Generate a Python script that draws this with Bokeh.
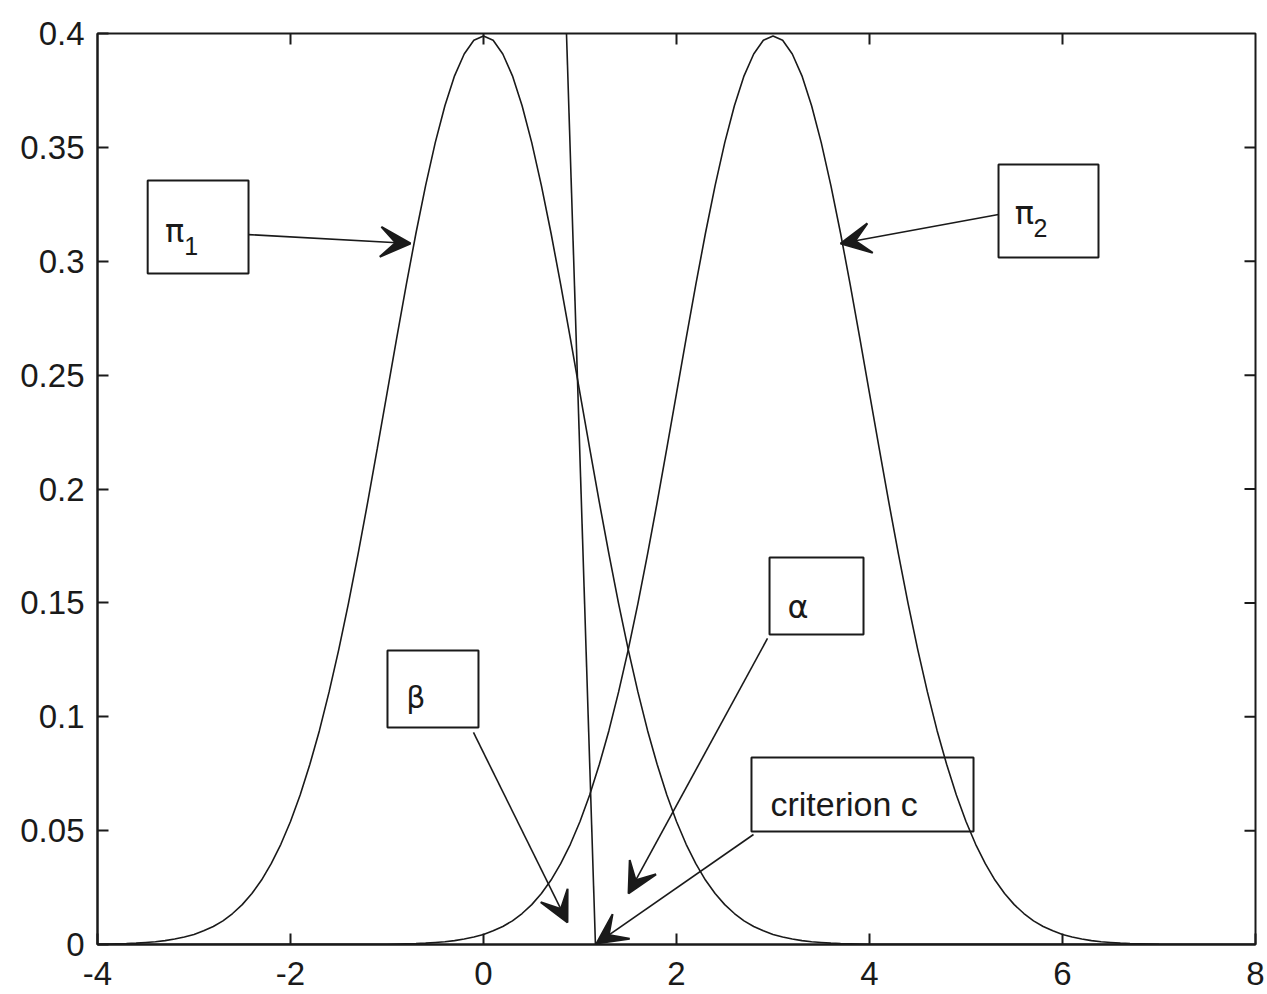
from bokeh.plotting import figure
from bokeh.models import Range1d, FixedTicker, Arrow, VeeHead, ColumnDataSource
from bokeh.core.properties import value
from bokeh.embed import file_html
from bokeh.resources import INLINE

# ---- data ----
# right half of a bell curve, read at steps of 0.1 from its centre outwards
half_curve = [0.3989, 0.3970, 0.3910, 0.3814, 0.3683, 0.3521, 0.3332, 0.3123, 0.2897, 0.2661,
              0.2420, 0.2179, 0.1942, 0.1714, 0.1497, 0.1295, 0.1109, 0.0940, 0.0790, 0.0656,
              0.0540, 0.0440, 0.0355, 0.0283, 0.0224, 0.0175, 0.0136, 0.0104, 0.0079, 0.0060,
              0.0044, 0.0033, 0.0024, 0.0017, 0.0012, 0.0009, 0.0006, 0.0004, 0.0003, 0.0002,
              0.0001]
pi1_center = 0.0
pi2_center = 3.0
pi1_x = [-4.0] + [round(pi1_center - 4.0 + 0.1 * i, 1) for i in range(81)] + [8.0]
pi1_y = [0.0] + half_curve[::-1] + half_curve[1:] + [0.0]
pi2_x = [-4.0] + [round(pi2_center - 4.0 + 0.1 * i, 1) for i in range(81)] + [8.0]
pi2_y = [0.0] + half_curve[::-1] + half_curve[1:] + [0.0]

criterion_x = [0.86, 1.16]
criterion_y = [0.4, 0.0]

x_ticks = [-4, -2, 0, 2, 4, 6, 8]
x_tick_labels = ["-4", "-2", "0", "2", "4", "6", "8"]
y_ticks = [0, 0.05, 0.1, 0.15, 0.2, 0.25, 0.3, 0.35, 0.4]
y_tick_labels = ["0", "0.05", "0.1", "0.15", "0.2", "0.25", "0.3", "0.35", "0.4"]

# ---- annotation geometry (positions) ----
box_left = [-3.48, 5.337, -0.995, 2.964, 2.777]
box_right = [-2.435, 6.373, -0.052, 3.938, 5.078]
box_top = [0.3355, 0.3425, 0.1291, 0.1699, 0.0821]
box_bottom = [0.2946, 0.3016, 0.0953, 0.1361, 0.0496]

arrows = [
    (-2.435, 0.3117, -0.756, 0.3078),
    (5.337, 0.3205, 3.700, 0.3078),
    (-0.104, 0.0931, 0.870, 0.0097),
    (2.943, 0.1344, 1.503, 0.0224),
    (2.798, 0.0483, 1.171, 0.0004),
]

greek = ["π", "π", "β", "α"]
greek_x = [-3.30, 5.505, -0.80, 3.15]
greek_y = [0.3135, 0.321, 0.1085, 0.148]
greek_size = ["32px", "32px", "30px", "32px"]
labels_sub = ["1", "2"]
labels_sub_x = [-3.10, 5.70]
labels_sub_y = [0.3069, 0.3144]
label_text = ["criterion c"]
label_text_x = [2.974]
label_text_y = [0.0619]

FONT = "Liberation Sans"
GREEK_FONT = "DejaVu Sans"
INK = "#1a1a1a"
X0, X1, Y0, Y1 = -4, 8, 0, 0.4

p = figure(width=1267, height=992, output_backend="svg", toolbar_location=None,
           x_range=Range1d(X0, X1), y_range=Range1d(Y0, Y1),
           min_border_left=97, min_border_right=12, min_border_top=33, min_border_bottom=48,
           background_fill_color="white", border_fill_color="white")
p.xgrid.visible = False
p.ygrid.visible = False
p.outline_line_color = INK
p.outline_line_width = 2


def style_axis(ax, ticks, labels):
    ax.ticker = FixedTicker(ticks=ticks)
    ax.major_label_overrides = {t: l for t, l in zip(ticks, labels)}
    ax.axis_line_color = INK
    ax.axis_line_width = 2
    ax.major_tick_in = 11
    ax.major_tick_out = 0
    ax.major_tick_line_color = INK
    ax.major_tick_line_width = 2
    ax.minor_tick_line_color = None
    ax.major_label_text_font = FONT
    ax.major_label_text_color = INK
    ax.major_label_text_font_size = "33px"
    ax.major_label_standoff = 14


style_axis(p.xaxis[0], x_ticks, x_tick_labels)
style_axis(p.yaxis[0], y_ticks, y_tick_labels)
p.xaxis[0].major_label_standoff = 17
p.yaxis[0].major_label_standoff = 13

# mirrored inward ticks on the top and right edges (11 px long)
frame_w, frame_h = 1158, 911
tick_dx = 11 * (X1 - X0) / frame_w
tick_dy = 11 * (Y1 - Y0) / frame_h
top_t = [t for t in x_ticks if X0 < t < X1]
right_t = [t for t in y_ticks if Y0 < t < Y1]
p.segment(x0=top_t, y0=[Y1] * len(top_t), x1=top_t, y1=[Y1 - tick_dy] * len(top_t),
          line_color=INK, line_width=2)
p.segment(x0=[X1] * len(right_t), y0=right_t, x1=[X1 - tick_dx] * len(right_t), y1=right_t,
          line_color=INK, line_width=2)

# curves
p.line(pi1_x, pi1_y, line_color=INK, line_width=1.6)
p.line(pi2_x, pi2_y, line_color=INK, line_width=1.6)
p.line(criterion_x, criterion_y, line_color=INK, line_width=1.6)

# boxes
p.quad(left=box_left, right=box_right, top=box_top, bottom=box_bottom,
       fill_color=None, line_color=INK, line_width=2)

# arrows
for (xs, ys, xe, ye) in arrows:
    p.add_layout(Arrow(x_start=xs, y_start=ys, x_end=xe, y_end=ye,
                       line_color=INK, line_width=1.6,
                       end=VeeHead(size=30, fill_color=INK, line_color=INK, line_width=2)))

# texts
src_greek = ColumnDataSource(dict(x=greek_x, y=greek_y, t=greek, s=greek_size))
p.text(x="x", y="y", text="t", source=src_greek, text_font=value(GREEK_FONT), text_font_size="s",
       text_color=INK, text_baseline="alphabetic", text_align="left")
p.text(x=labels_sub_x, y=labels_sub_y, text=labels_sub, text_font=value(FONT),
       text_font_size="25px", text_color=INK, text_baseline="alphabetic", text_align="left")
p.text(x=label_text_x, y=label_text_y, text=label_text, text_font=value(FONT),
       text_font_size="34px", text_color=INK, text_baseline="alphabetic", text_align="left")

open("out.html", "w").write(file_html(p, INLINE))
